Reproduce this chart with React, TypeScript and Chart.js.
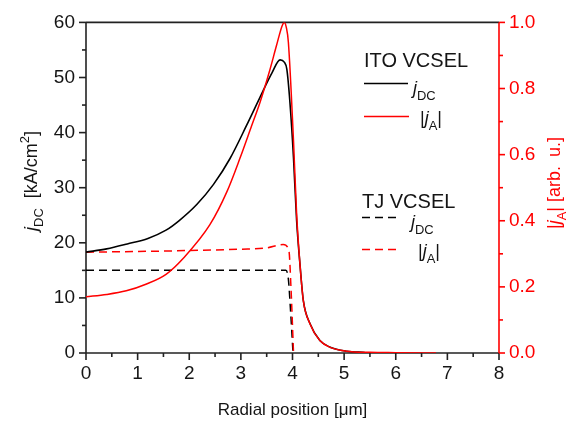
import React, { useEffect, useRef } from "react";
import { Chart, registerables } from "chart.js";

Chart.register(...registerables);

// ---- data ----
const itoJdcX = [0, 0.4, 0.8, 1.2, 1.55, 1.8, 2.15, 2.47, 2.79, 3.11, 3.37, 3.6, 3.76, 3.84, 3.89, 3.95, 4.02, 4.08, 4.15, 4.21, 4.34, 4.53, 4.73, 5.05, 5.4];
const itoJdcY = [18.3, 18.9, 19.8, 20.8, 22.3, 24.0, 27.0, 30.6, 35.3, 41.3, 46.4, 50.8, 53.2, 52.8, 51.5, 45.5, 35.3, 24.0, 15.5, 9.5, 5.3, 2.25, 1.05, 0.33, 0.1];

const itoJaX = [0, 0.4, 0.78, 1.16, 1.55, 1.89, 2.4, 2.73, 2.98, 3.21, 3.37, 3.55, 3.69, 3.8, 3.84, 3.88, 3.92, 4.02, 4.08, 4.15, 4.21, 4.34, 4.53, 4.73, 5.05, 5.5, 6.0, 6.78];
const itoJaY = [0.17, 0.177, 0.188, 0.208, 0.238, 0.2875, 0.388, 0.488, 0.588, 0.688, 0.758, 0.85, 0.93, 0.99, 1.0, 0.985, 0.94, 0.64, 0.42, 0.258, 0.158, 0.088, 0.0375, 0.017, 0.0055, 0.002, 0.001, 0.0];

const tjJdcX = [0, 1, 2, 3, 3.87, 3.92, 3.96, 4.01];
const tjJdcY = [15.0, 15.0, 15.0, 15.0, 15.0, 13.4, 8.0, 0.0];

const tjJaX = [0, 1, 2, 3, 3.5, 3.82, 3.93, 3.97, 4.02];
const tjJaY = [0.305, 0.307, 0.31, 0.314, 0.318, 0.328, 0.31, 0.2, 0.0];

const xTicks = { min: 0, max: 8, step: 1, minor: 0.5 };
const yLeftTicks = { min: 0, max: 60, step: 10, minor: 5 };
const yRightTicks = { min: 0, max: 1, step: 0.2, minor: 0.1 };

const xTitle = "Radial position [\u03BCm]";

const RED = "#ff0000";
const BLACK = "#000000";
const TEXT = "#151515";
const FONT = '"Liberation Sans", Arial, sans-serif';

type Seg = { t: string; it?: boolean; sub?: boolean; sup?: boolean; gap?: number };

function segFont(s: Seg, size: number) {
  const sz = s.sub || s.sup ? size * 0.72 : size;
  return `${s.it ? "italic " : ""}${sz}px ${FONT}`;
}
function segWidth(ctx: CanvasRenderingContext2D, s: Seg, size: number) {
  ctx.font = segFont(s, size);
  return ctx.measureText(s.t).width + (s.gap || 0);
}
function measureSegs(ctx: CanvasRenderingContext2D, segs: Seg[], size: number) {
  let w = 0;
  for (const s of segs) w += segWidth(ctx, s, size);
  return w;
}
function drawSegs(ctx: CanvasRenderingContext2D, segs: Seg[], x: number, y: number, size: number) {
  ctx.textBaseline = "alphabetic";
  ctx.textAlign = "left";
  let cx = x;
  for (const s of segs) {
    ctx.font = segFont(s, size);
    const dy = s.sub ? size * 0.32 : s.sup ? -size * 0.42 : 0;
    ctx.fillText(s.t, cx, y + dy);
    cx += segWidth(ctx, s, size);
  }
}

const leftTitle: Seg[] = [{ t: "j", it: true }, { t: "DC", sub: true, gap: 5 }, { t: " [kA/cm" }, { t: "2", sup: true }, { t: "]" }];
const rightTitle: Seg[] = [{ t: "|" }, { t: "j", it: true }, { t: "A", sub: true }, { t: "| [arb.", gap: 4 }, { t: " u.]" }];
const jdcLabel: Seg[] = [{ t: "j", it: true }, { t: "DC", sub: true }];
const jaLabel: Seg[] = [{ t: "|" }, { t: "j", it: true }, { t: "A", sub: true }, { t: "|" }];

const decorPlugin = {
  id: "decor",
  beforeDatasetsDraw(chart: any) {
    const { ctx, chartArea: ca, scales } = chart;
    const sx = scales.x, yl = scales.y, yr = scales.y1;
    const line = (x1: number, y1: number, x2: number, y2: number) => {
      ctx.beginPath();
      ctx.moveTo(x1, y1);
      ctx.lineTo(x2, y2);
      ctx.stroke();
    };
    const isMajor = (v: number, step: number) => Math.abs(v / step - Math.round(v / step)) < 1e-6;
    ctx.save();
    ctx.lineWidth = 1.6;
    ctx.strokeStyle = "#222";
    line(ca.left, ca.top, ca.right, ca.top);
    line(ca.left, ca.top, ca.left, ca.bottom);
    line(ca.left, ca.bottom, ca.right, ca.bottom);
    for (let v = xTicks.min; v <= xTicks.max + 1e-9; v += xTicks.minor) {
      const px = sx.getPixelForValue(v);
      line(px, ca.bottom, px, ca.bottom + (isMajor(v, xTicks.step) ? 7 : 4));
    }
    for (let v = yLeftTicks.min; v <= yLeftTicks.max + 1e-9; v += yLeftTicks.minor) {
      const py = yl.getPixelForValue(v);
      line(ca.left, py, ca.left - (isMajor(v, yLeftTicks.step) ? 7 : 4), py);
    }
    ctx.strokeStyle = RED;
    line(ca.right, ca.top, ca.right, ca.bottom);
    for (let v = yRightTicks.min; v <= yRightTicks.max + 1e-9; v += yRightTicks.minor) {
      const py = yr.getPixelForValue(v);
      line(ca.right, py, ca.right + (isMajor(v, yRightTicks.step) ? 6 : 4), py);
    }
    ctx.restore();
  },
  afterDraw(chart: any) {
    const { ctx, chartArea: ca } = chart;
    ctx.save();
    // x title
    ctx.fillStyle = TEXT;
    ctx.font = `17px ${FONT}`;
    ctx.textAlign = "center";
    ctx.textBaseline = "alphabetic";
    ctx.fillText(xTitle, (ca.left + ca.right) / 2, 415);

    // left title (rotated CCW)
    const ls = 18;
    ctx.save();
    ctx.translate(37, 181);
    ctx.rotate(-Math.PI / 2);
    const lw = measureSegs(ctx, leftTitle, ls);
    ctx.fillStyle = TEXT;
    drawSegs(ctx, leftTitle, -lw / 2, 0, ls);
    ctx.restore();

    // right title (rotated CCW)
    const rs = 18;
    ctx.save();
    ctx.translate(560, 183);
    ctx.rotate(-Math.PI / 2);
    const rw = measureSegs(ctx, rightTitle, rs);
    ctx.fillStyle = RED;
    drawSegs(ctx, rightTitle, -rw / 2, 0, rs);
    ctx.restore();

    // legend
    const ds = chart.data.datasets;
    const legendLine = (d: any, x1: number, x2: number, y: number) => {
      ctx.save();
      ctx.strokeStyle = d.borderColor;
      ctx.lineWidth = d.borderWidth;
      ctx.setLineDash(d.borderDash || []);
      ctx.beginPath();
      ctx.moveTo(x1, y);
      ctx.lineTo(x2, y);
      ctx.stroke();
      ctx.restore();
    };
    ctx.fillStyle = TEXT;
    ctx.font = `20px ${FONT}`;
    ctx.textAlign = "left";
    ctx.textBaseline = "alphabetic";
    ctx.fillText("ITO VCSEL", 364, 67);
    legendLine(ds[1], 364, 408, 83.5);
    drawSegs(ctx, jdcLabel, 413, 94, 18);
    legendLine(ds[0], 364, 409, 116.5);
    drawSegs(ctx, jaLabel, 420, 124, 18);

    ctx.fillStyle = TEXT;
    ctx.font = `20px ${FONT}`;
    ctx.fillText("TJ VCSEL", 362, 208);
    legendLine(ds[3], 362, 401, 217.5);
    drawSegs(ctx, jdcLabel, 411, 228, 18);
    legendLine(ds[2], 362, 401, 249.5);
    drawSegs(ctx, jaLabel, 418, 257, 18);
    ctx.restore();
  },
};

function pts(xs: number[], ys: number[]) {
  return xs.map((x, i) => ({ x, y: ys[i] }));
}

export default function App() {
  const ref = useRef<HTMLCanvasElement | null>(null);
  useEffect(() => {
    if (!ref.current) return;
    const tickFont = { family: FONT, size: 19 };
    const chart = new Chart(ref.current, {
      type: "line",
      data: {
        datasets: [
          { label: "ITO |jA|", data: pts(itoJaX, itoJaY), yAxisID: "y1", borderColor: RED, borderWidth: 1.5, pointRadius: 0, cubicInterpolationMode: "monotone", order: 0 },
          { label: "ITO jDC", data: pts(itoJdcX, itoJdcY), yAxisID: "y", borderColor: BLACK, borderWidth: 1.6, pointRadius: 0, cubicInterpolationMode: "monotone", order: 1 },
          { label: "TJ |jA|", data: pts(tjJaX, tjJaY), yAxisID: "y1", borderColor: RED, borderWidth: 1.5, borderDash: [8, 5], pointRadius: 0, cubicInterpolationMode: "monotone", order: 2 },
          { label: "TJ jDC", data: pts(tjJdcX, tjJdcY), yAxisID: "y", borderColor: BLACK, borderWidth: 1.5, borderDash: [8, 5], pointRadius: 0, cubicInterpolationMode: "monotone", order: 3 },
        ] as any,
      },
      options: {
        responsive: false,
        animation: false,
        devicePixelRatio: 1,
        layout: { padding: { top: 19, left: 0, right: 0, bottom: 0 } },
        plugins: { legend: { display: false }, tooltip: { enabled: false } },
        scales: {
          x: {
            type: "linear",
            min: xTicks.min,
            max: xTicks.max,
            grid: { display: true, drawOnChartArea: false, drawTicks: false },
            border: { display: false },
            ticks: { stepSize: xTicks.step, font: tickFont, color: TEXT, padding: 9, maxRotation: 0, callback: (v: any) => String(v) },
            afterFit: (s: any) => { s.height = 72; },
          },
          y: {
            type: "linear",
            position: "left",
            min: yLeftTicks.min,
            max: yLeftTicks.max,
            grid: { display: true, drawOnChartArea: false, drawTicks: false },
            border: { display: false },
            ticks: { stepSize: yLeftTicks.step, font: tickFont, color: TEXT, padding: 11, callback: (v: any) => String(v) },
            afterFit: (s: any) => { s.width = 86; },
          },
          y1: {
            type: "linear",
            position: "right",
            min: yRightTicks.min,
            max: yRightTicks.max,
            grid: { display: true, drawOnChartArea: false, drawTicks: false },
            border: { display: false },
            ticks: { stepSize: yRightTicks.step, font: tickFont, color: RED, padding: 10, callback: (v: any) => Number(v).toFixed(1) },
            afterFit: (s: any) => { s.width = 80; },
          },
        },
      } as any,
      plugins: [decorPlugin],
    });
    return () => chart.destroy();
  }, []);
  return (
    <div style={{ position: "absolute", left: 0, top: 0, width: 579, height: 425, background: "#fff" }}>
      <canvas ref={ref} width={579} height={425} style={{ display: "block" }} />
    </div>
  );
}
